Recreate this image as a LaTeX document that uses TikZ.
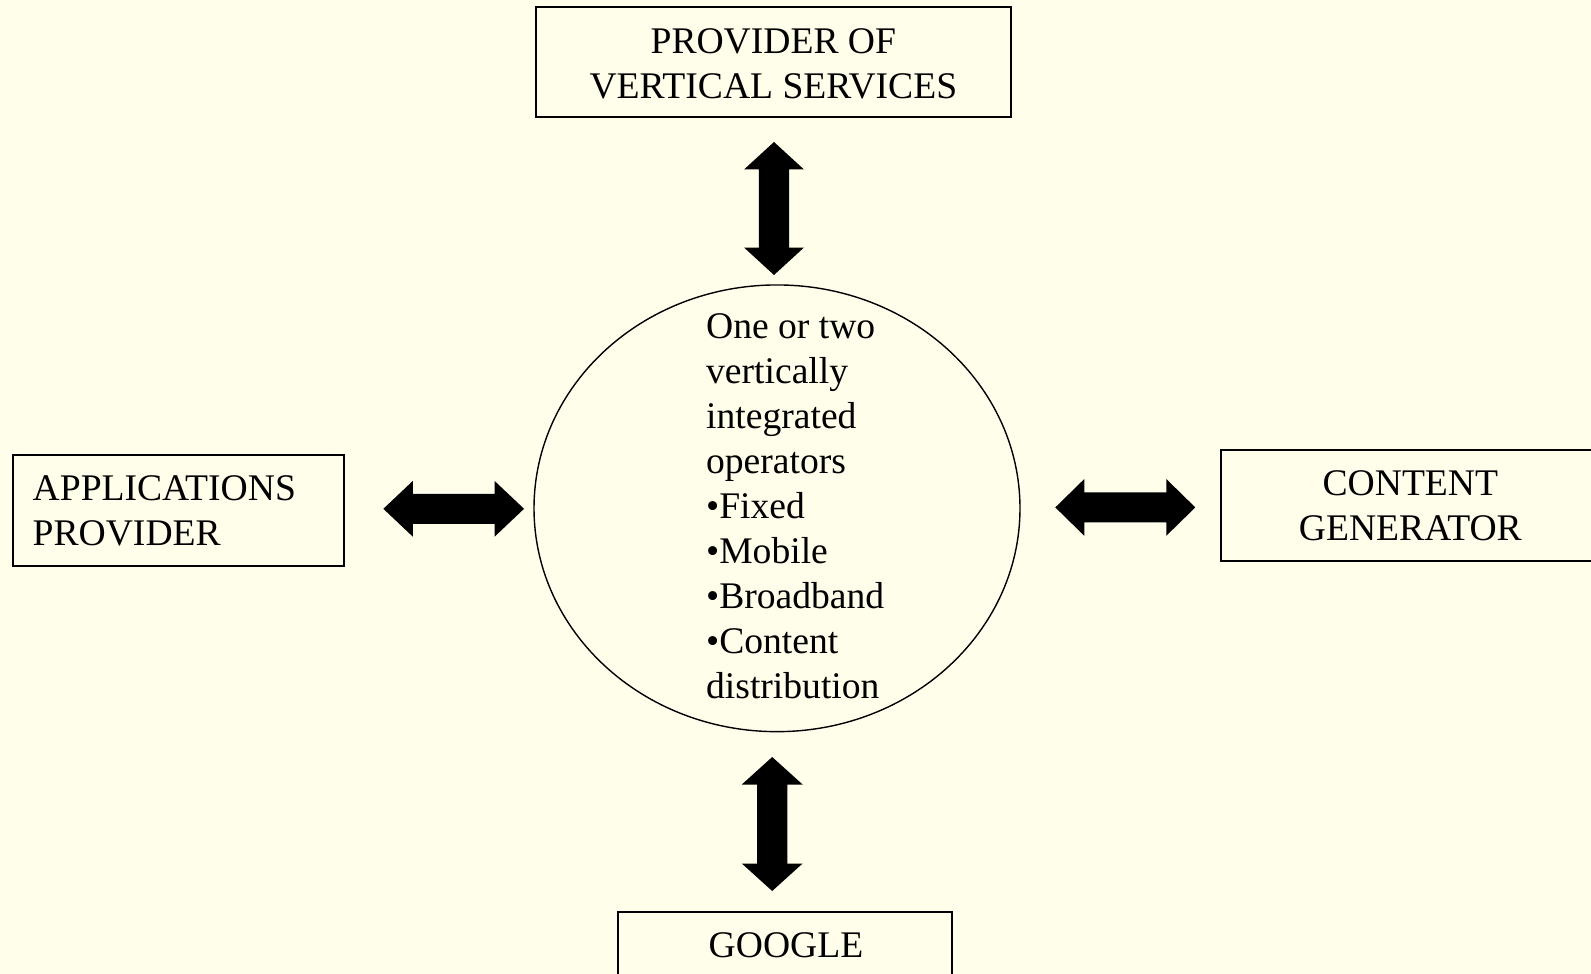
\documentclass[tikz,border=0pt]{standalone}
\usepackage{fontspec}
\setmainfont{Liberation Serif}
\usetikzlibrary{shapes.geometric}
\definecolor{paper}{RGB}{255,254,234}
\tikzset{
  box/.style={draw=black, line width=1pt, rectangle, inner sep=0pt},
  hub/.style={draw=black, line width=0.7pt, ellipse, inner sep=0pt},
  caption/.style={font=\fontsize{18.8}{22.5}\selectfont, inner sep=0pt, text=black},
  % fat two-headed arrow: half length, head length, half head width, half shaft width
  pics/dblarrow/.style n args={4}{code={
    \fill[black] (-#1,0) -- (-#1+#2,#3) -- (-#1+#2,#4) -- (#1-#2,#4) -- (#1-#2,#3)
      -- (#1,0) -- (#1-#2,-#3) -- (#1-#2,-#4) -- (-#1+#2,-#4) -- (-#1+#2,-#3) -- cycle;
  }}
}
\begin{document}
\begin{tikzpicture}[x=0.5pt,y=-0.5pt]
  \fill[paper] (0,0) rectangle (1591,974);
  \useasboundingbox (0,0) rectangle (1591,974);
  \clip (0,0) rectangle (1591,974);

  % central operators
  \node[hub, minimum width=243pt, minimum height=223.35pt,
        label={[name=opsText, caption, align=left, xshift=9.1pt, yshift=1.2pt]center:
          One or two\\vertically\\integrated\\operators\\•Fixed\\•Mobile\\•Broadband\\•Content\\distribution}]
        (ops) at (777,508.3) {};

  % surrounding players
  \node[box, minimum width=237.35pt, minimum height=55pt,
        label={[name=vertText, caption, align=center, yshift=-0.7pt]center:PROVIDER OF\\VERTICAL SERVICES}]
        (vert) at (773.35,62.3) {};
  \node[box, minimum width=165.65pt, minimum height=55.5pt,
        label={[name=appsText, caption, align=left, anchor=west, xshift=10.3pt]west:APPLICATIONS\\PROVIDER}]
        (apps) at (178.35,510.5) {};
  \node[box, minimum width=189.65pt, minimum height=55.35pt,
        label={[name=contText, caption, align=center]center:CONTENT\\GENERATOR}]
        (cont) at (1410.35,505.35) {};
  \node[box, minimum width=167pt, minimum height=55.5pt,
        label={[name=googText, caption, xshift=0.5pt, yshift=11.35pt]center:GOOGLE}]
        (goog) at (785,967.5) {};

  % links between the operators and each player
  \coordinate (linkTop) at (774,208.5);
  \coordinate (linkLeft) at (453.7,508.8);
  \coordinate (linkRight) at (1125.3,507.4);
  \coordinate (linkBottom) at (772.2,824);
  \pic[rotate=90] at (linkTop) {dblarrow={66.5}{27.5}{30}{15.2}};
  \pic at (linkLeft) {dblarrow={70.35}{29.4}{27.8}{15}};
  \pic at (linkRight) {dblarrow={70}{29}{28.4}{15}};
  \pic[rotate=90] at (linkBottom) {dblarrow={67}{27.5}{30.4}{15.2}};
\end{tikzpicture}
\end{document}
